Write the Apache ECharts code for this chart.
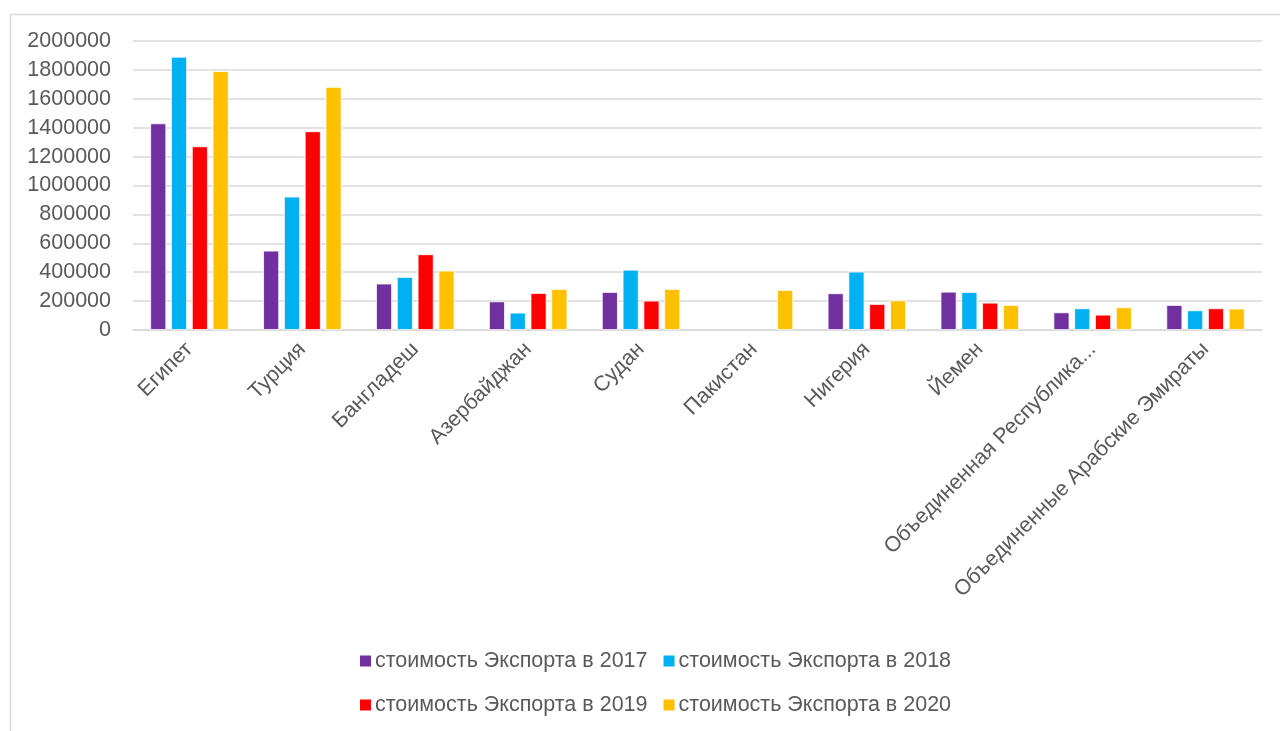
<!DOCTYPE html>
<html><head><meta charset="utf-8">
<script src="https://cdn.jsdelivr.net/npm/echarts@6/dist/echarts.min.js"></script>
<style>html,body{margin:0;padding:0;background:#fff}#c{width:1280px;height:731px}</style>
</head><body><div id="c"></div>
<script>
const categories = ["Египет","Турция","Бангладеш","Азербайджан","Судан","Пакистан","Нигерия","Йемен","Объединенная Республика...","Объединенные Арабские Эмираты"];
const seriesNames = ["стоимость Экспорта в 2017","стоимость Экспорта в 2018","стоимость Экспорта в 2019","стоимость Экспорта в 2020"];
const v2017 = [1430000, 549000, 321000, 198000, 263000, null, 254000, 265000, 122000, 173000];
const v2018 = [1891000, 923000, 367000, 120000, 417000, null, 404000, 263000, 150000, 136000];
const v2019 = [1271000, 1375000, 524000, 256000, 203000, null, 180000, 189000, 106000, 150000];
const v2020 = [1792000, 1682000, 411000, 284000, 284000, 277000, 205000, 173000, 157000, 148000];
const colors = ["#7030a0","#00b0f0","#ff0000","#ffc000"];
const yTicks = {min:0, max:2000000, interval:200000};

const values = [v2017, v2018, v2019, v2020];
const FONT = "Liberation Sans";
const chart = echarts.init(document.getElementById('c'));
const legendText = {fontFamily:FONT, fontSize:21.5, color:'#595959', padding:[0,0,0,-2]};
chart.setOption({
  animation:false,
  textStyle:{fontFamily:FONT},
  graphic:[{type:'rect', left:8, top:12, shape:{width:1400, height:900}, style:{fill:'none', stroke:'#d9d9d9', lineWidth:1.5}, silent:true}],
  legend:[
    {data:seriesNames.slice(0,2), left:358, top:650, padding:0, itemWidth:13, itemHeight:13, itemGap:14, icon:'rect', textStyle:legendText},
    {data:seriesNames.slice(2,4), left:358, top:694, padding:0, itemWidth:13, itemHeight:13, itemGap:14, icon:'rect', textStyle:legendText}
  ],
  grid:{left:133, right:18, top:41, bottom:731-330, containLabel:false},
  xAxis:{type:'category', data:categories,
    axisLine:{lineStyle:{color:'#d9d9d9', width:1.5}}, axisTick:{show:false},
    axisLabel:{rotate:45, interval:0, margin:16, fontSize:21.5, color:'#595959', fontFamily:FONT}},
  yAxis:{type:'value', min:yTicks.min, max:yTicks.max, interval:yTicks.interval,
    axisLine:{show:false}, axisTick:{show:false},
    axisLabel:{fontSize:21.5, color:'#595959', margin:22, fontFamily:FONT, formatter:v=>String(v)},
    splitLine:{lineStyle:{color:'#d9d9d9', width:1.5}}},
  series: seriesNames.map((n,i)=>({name:n, type:'bar', data:values[i], barWidth:16, barGap:'30%',
    itemStyle:{color:colors[i], borderColor:'#fff', borderWidth:0.8}}))
});
</script></body></html>
